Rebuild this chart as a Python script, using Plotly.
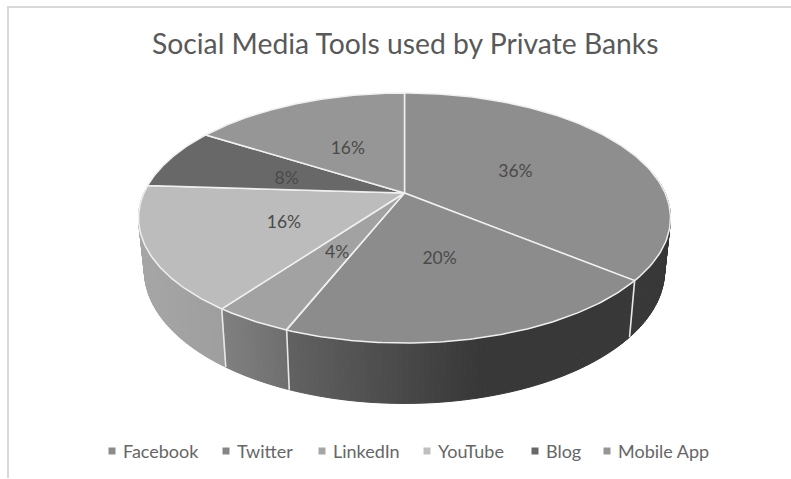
import numpy as np
import plotly.graph_objects as go

# Chart content
title = "Social Media Tools used by Private Banks"
categories = ["Facebook", "Twitter", "LinkedIn", "YouTube", "Blog", "Mobile App"]
shares = [36, 20, 4, 16, 8, 16]

# Fill colours of the top faces
top_colors = ["#8e8e8e", "#8c8c8c", "#a2a2a2", "#bcbcbc", "#686868", "#969696"]
# Side wall shading, (grey at the slice's left end, grey at its right end)
wall_greys = {
    "Facebook": (58, 56),
    "Twitter": (98, 56),
    "LinkedIn": (128, 110),
    "YouTube": (166, 158),
}
legend_colors = ["#8c8c8c", "#868686", "#a6a6a6", "#bfbfbf", "#686868", "#969696"]
legend_text_x = [123, 237, 333, 438, 546, 618]

# Drawing area and the perspective of the tilted disc
WIDTH, HEIGHT = 791, 479
APEX_X, APEX_Y = 404.5, 193
SCALE_X, SCALE_Y = 260.6, 120
TILT = 0.2
RIM_SHRINK, RIM_DROP = 0.978, 51
LABEL_RADIUS, LABEL_DROP = 0.49, 4


def project(theta, radius=1.0, lower=False):
    """Map a clockwise angle from 12 o'clock on the disc to drawing coordinates."""
    u = radius * np.sin(theta)
    v = -radius * np.cos(theta)
    w = 1 - TILT * v
    shrink = RIM_SHRINK if lower else 1.0
    drop = RIM_DROP / w if lower else 0.0
    return APEX_X + shrink * SCALE_X * u / w, APEX_Y + shrink * SCALE_Y * v / w + drop


def polygon(x, y, color, line=None, width=1.0):
    return go.Scatter(
        x=list(x), y=list(y), mode="lines", fill="toself", fillcolor=color,
        line=dict(color=line or color, width=width), hoverinfo="skip", showlegend=False,
    )


edges = np.cumsum([0] + shares) / sum(shares) * 2 * np.pi
fig = go.Figure()

# Side walls: only the front half of the disc is visible, shaded in narrow strips
left_limit = np.arctan2(-1, 0.02) % (2 * np.pi)
seams = []
for i, name in enumerate(categories):
    a0, a1 = edges[i], edges[i + 1]
    if name not in wall_greys:
        continue
    start, end = max(a0, np.pi * 0.45), min(a1, left_limit)
    if start >= end:
        continue
    n = max(4, int((end - start) * 60))
    steps = np.linspace(start, end, n + 1)
    xs_all = project(steps)[0]
    left_g, right_g = wall_greys[name]
    span = xs_all.max() - xs_all.min()
    for t0, t1 in zip(steps[:-1], steps[1:]):
        seg = np.array([t0, t1])
        tx, ty = project(seg)
        bx, by = project(seg, lower=True)
        frac = ((tx.mean() - xs_all.min()) / span)
        if name == "Twitter":
            frac = min(1.0, frac / 0.55)
        if name == "Facebook":
            frac = 1.0
        g = int(round(left_g + (right_g - left_g) * frac))
        fig.add_trace(polygon(
            [tx[0], tx[1], bx[1], bx[0], tx[0]], [ty[0], ty[1], by[1], by[0], ty[0]],
            f"rgb({g},{g},{g})",
        ))
    if np.pi * 0.5 < a1 < left_limit:
        seams.append(a1)

# Top faces with white separators
for a0, a1, color in zip(edges[:-1], edges[1:], top_colors):
    ts = np.linspace(a0, a1, 120)
    x, y = project(ts)
    fig.add_trace(polygon(
        np.r_[APEX_X, x, APEX_X], np.r_[APEX_Y, y, APEX_Y], color, line="#f0f0f0", width=1.5,
    ))

# Vertical seams between the walls of neighbouring slices
for a in seams:
    tx, ty = project(a)
    bx, by = project(a, lower=True)
    fig.add_trace(go.Scatter(
        x=[tx, bx], y=[ty, by], mode="lines", line=dict(color="#e8e8e8", width=1.6),
        hoverinfo="skip", showlegend=False,
    ))

# Percentage labels inside the slices
mids = (edges[:-1] + edges[1:]) / 2
lx, ly = project(mids, LABEL_RADIUS)
fig.add_trace(go.Scatter(
    x=lx, y=ly + LABEL_DROP, mode="text", text=[f"{s}%" for s in shares],
    textfont=dict(family="Lato", size=17.5, color="#4a4a4a"),
    hoverinfo="skip", showlegend=False,
))

# Legend row
for name, color, tx in zip(categories, legend_colors, legend_text_x):
    fig.add_trace(go.Scatter(
        x=[tx - 11], y=[451], mode="markers",
        marker=dict(symbol="square", size=7, color=color),
        hoverinfo="skip", showlegend=False,
    ))
    fig.add_annotation(
        x=tx - 2, y=451, text=name, showarrow=False, xanchor="left", yanchor="middle",
        font=dict(family="Lato", size=18, color="#666666"),
    )

# Chart frame, open on the right and at the bottom
frame = dict(type="line", xref="x", yref="y", line=dict(color="#d9d9d9", width=2))
fig.add_shape(x0=8, x1=8, y0=7, y1=478, **frame)
fig.add_shape(x0=7, x1=791, y0=7, y1=7, **frame)

fig.add_annotation(
    x=404.5, y=43, text=title, showarrow=False, xanchor="center", yanchor="middle",
    font=dict(family="Lato", size=28.3, color="#595959"),
)

fig.update_layout(
    width=WIDTH, height=HEIGHT, margin=dict(l=0, r=0, t=0, b=0),
    paper_bgcolor="white", plot_bgcolor="white", showlegend=False,
    xaxis=dict(range=[0, WIDTH], visible=False, fixedrange=True),
    yaxis=dict(range=[HEIGHT, 0], visible=False, fixedrange=True),
)
fig.write_html("out.html", config=dict(displayModeBar=False))
